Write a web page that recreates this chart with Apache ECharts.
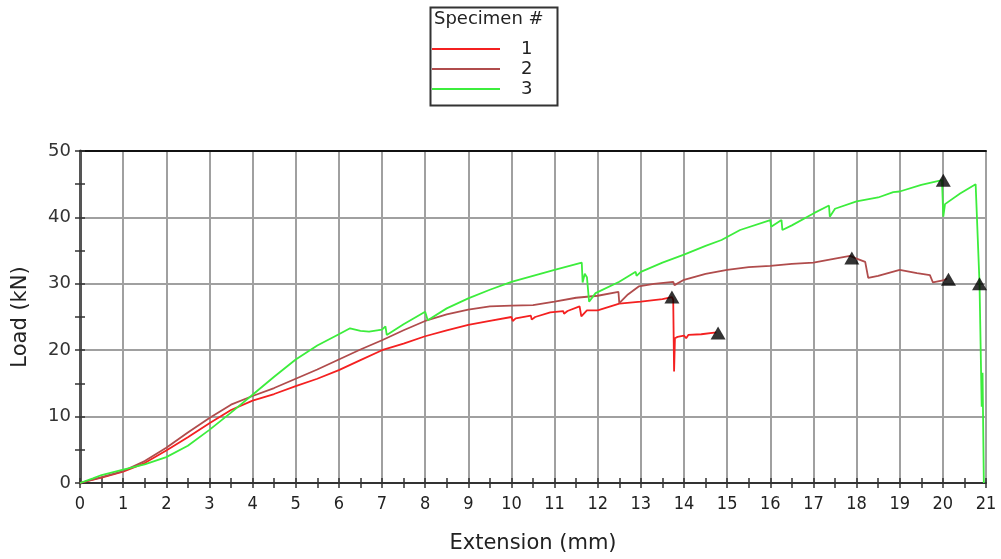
<!DOCTYPE html>
<html>
<head>
<meta charset="utf-8">
<script src="https://cdn.jsdelivr.net/npm/echarts@6/dist/echarts.min.js"></script>
<style>
html,body{margin:0;padding:0;background:#fff;}
#chart{width:1001px;height:559px;}
</style>
</head>
<body>
<div id="chart"></div>
<script>
// ---- data (Extension mm, Load kN) ----
const seriesNames = ['1', '2', '3'];
const xTicks = [0,1,2,3,4,5,6,7,8,9,10,11,12,13,14,15,16,17,18,19,20,21];
const yTicks = [0,10,20,30,40,50];

const specimen1 = [
  [0,0],[0.5,0.8],[1,1.7],[1.5,3.0],[2,4.9],[2.5,6.9],[3,9.0],[3.5,11.0],[4,12.4],
  [4.5,13.4],[5,14.6],[5.5,15.7],[6,17.0],[6.5,18.5],[7,20.0],[7.5,21.0],[8,22.1],
  [8.5,23.0],[9,23.8],[9.5,24.4],[10,25.0],[10.03,24.4],[10.1,24.8],[10.45,25.2],
  [10.47,24.6],[10.55,25.0],[10.9,25.7],[11.2,25.9],[11.22,25.5],[11.3,25.9],
  [11.58,26.6],[11.62,25.1],[11.75,26.0],[12,26.0],[12.5,27.0],[13,27.3],[13.5,27.7],
  [13.72,28.0],[13.75,27.6],[13.77,16.8],[13.79,21.8],[13.85,22.0],[14.0,22.2],
  [14.05,21.8],[14.1,22.3],[14.4,22.4],[14.75,22.7]
];
const specimen2 = [
  [0,0],[0.5,0.9],[1,1.8],[1.5,3.3],[2,5.3],[2.5,7.6],[3,9.8],[3.5,11.8],[4,13.1],
  [4.5,14.3],[5,15.7],[5.5,17.1],[6,18.6],[6.5,20.1],[7,21.5],[7.5,23.0],[8,24.4],
  [8.5,25.4],[9,26.1],[9.5,26.6],[10,26.7],[10.5,26.8],[11,27.3],[11.5,27.9],[12,28.2],
  [12.48,28.8],[12.5,27.1],[12.7,28.4],[12.95,29.6],[13.3,30.0],[13.75,30.3],[13.78,29.8],
  [14,30.6],[14.5,31.5],[15,32.1],[15.5,32.5],[16,32.7],[16.5,33.0],[17,33.2],[17.5,33.8],
  [17.85,34.2],[18.0,33.8],[18.2,33.3],[18.27,30.9],[18.5,31.2],[19.0,32.1],[19.4,31.6],
  [19.7,31.3],[19.77,30.2],[20.0,30.5],[20.1,30.8]
];
const specimen3 = [
  [0,0],[0.3,0.7],[0.5,1.2],[1,2.0],[1.5,2.8],[2,3.9],[2.5,5.6],[3,8.0],[3.5,10.6],
  [4,13.3],[4.5,16.0],[5,18.6],[5.5,20.7],[6,22.4],[6.26,23.3],[6.5,22.9],[6.7,22.8],
  [7.0,23.1],[7.08,23.6],[7.11,22.3],[7.5,23.9],[8.0,25.8],[8.06,24.5],[8.5,26.3],
  [9.0,27.8],[9.5,29.1],[10.0,30.3],[10.5,31.2],[11.0,32.1],[11.63,33.2],[11.65,30.2],
  [11.7,31.5],[11.75,31.0],[11.8,27.3],[11.95,28.6],[12.5,30.3],[12.88,31.8],[12.9,31.2],
  [13.0,31.8],[13.5,33.2],[14,34.4],[14.5,35.7],[14.87,36.6],[15.3,38.1],[16.0,39.6],
  [16.02,38.6],[16.26,39.6],[16.28,38.1],[16.5,38.8],[17.0,40.6],[17.36,41.8],[17.38,40.1],
  [17.5,41.3],[18.0,42.4],[18.5,43.0],[18.85,43.8],[19.0,43.9],[19.5,44.9],[19.98,45.6],
  [20.01,40.1],[20.05,42.0],[20.4,43.6],[20.76,45.0],[20.85,30.0],[20.9,11.5],[20.92,16.6],
  [20.95,0]
];
const failurePoints = [
  [13.72,28.0],[14.79,22.6],[17.89,33.9],[20.13,30.7],[20.01,45.6],[20.85,30.0]
];
const colors = ['#f42020', '#b04c4c', '#3ced3c'];

const FONT = '"DejaVu Sans", Verdana, sans-serif';
const FONT_C = '"DejaVu Sans Condensed", "DejaVu Sans", sans-serif';

const chart = echarts.init(document.getElementById('chart'), null, {renderer: 'canvas'});

const gridCfg = {left: 80, right: 15, top: 151, bottom: 76};

function baseX(extra) {
  return Object.assign({
    type: 'value', min: xTicks[0], max: xTicks[xTicks.length - 1], interval: 1,
    position: 'bottom'
  }, extra);
}
function baseY(extra) {
  return Object.assign({
    type: 'value', min: yTicks[0], max: yTicks[yTicks.length - 1], interval: 10,
    position: 'left'
  }, extra);
}

const option = {
  animation: false,
  backgroundColor: '#fff',
  grid: gridCfg,
  legend: {
    data: seriesNames,
    orient: 'vertical',
    left: 432, top: 39,
    padding: 0,
    itemGap: 0,
    icon: 'rect',
    itemWidth: 68, itemHeight: 2,
    textStyle: {fontFamily: FONT, fontSize: 18, color: '#222', lineHeight: 20, padding: [0,0,0,16]}
  },
  graphic: [
    {type: 'rect', left: 428, top: 5, shape: {width: 127, height: 98},
     style: {fill: 'none', stroke: '#333', lineWidth: 2}},
    {type: 'text', left: 434, top: 10,
     style: {text: 'Specimen #', font: '18px ' + FONT, fill: '#222'}}
  ],
  xAxis: [
    baseX({
      name: 'Extension (mm)', nameLocation: 'middle', nameGap: 50,
      nameTextStyle: {fontFamily: FONT, fontSize: 21, color: '#222'},
      axisLine: {show: true, lineStyle: {color: '#333', width: 2}},
      axisTick: {show: true, inside: false, length: 5, lineStyle: {color: '#333', width: 1.5}},
      minorTick: {show: true, splitNumber: 2, length: 5, lineStyle: {color: '#333', width: 1.5}},
      axisLabel: {fontFamily: FONT_C, fontSize: 18, color: '#222', margin: 12},
      splitLine: {show: true, lineStyle: {color: '#a0a0a0', width: 2}}
    }),
    baseX({
      axisLine: {show: false},
      axisTick: {show: true, inside: true, length: 5, lineStyle: {color: '#333', width: 1.5}},
      minorTick: {show: true, splitNumber: 2, length: 5, lineStyle: {color: '#333', width: 1.5}},
      axisLabel: {show: false},
      splitLine: {show: false}
    }),
    baseX({
      position: 'top',
      axisLine: {show: true, lineStyle: {color: '#111', width: 2}},
      axisTick: {show: false}, axisLabel: {show: false}, splitLine: {show: false}
    })
  ],
  yAxis: [
    baseY({
      name: 'Load (kN)', nameLocation: 'middle', nameGap: 49, nameRotate: 90,
      nameTextStyle: {fontFamily: FONT, fontSize: 21, color: '#222'},
      axisLine: {show: true, lineStyle: {color: '#555', width: 3}},
      axisTick: {show: true, inside: false, length: 5, lineStyle: {color: '#333', width: 1.5}},
      minorTick: {show: true, splitNumber: 2, length: 5, lineStyle: {color: '#333', width: 1.5}},
      axisLabel: {fontFamily: FONT, fontSize: 18, color: '#333', margin: 9},
      splitLine: {show: true, lineStyle: {color: '#a0a0a0', width: 2}}
    }),
    baseY({
      axisLine: {show: false},
      axisTick: {show: true, inside: true, length: 5, lineStyle: {color: '#333', width: 1.5}},
      minorTick: {show: true, splitNumber: 2, length: 5, lineStyle: {color: '#333', width: 1.5}},
      axisLabel: {show: false},
      splitLine: {show: false}
    })
  ],
  series: [
    {name: seriesNames[0], type: 'line', data: specimen1, symbol: 'none',
     lineStyle: {color: colors[0], width: 1.8}, itemStyle: {color: colors[0]}},
    {name: seriesNames[1], type: 'line', data: specimen2, symbol: 'none',
     lineStyle: {color: colors[1], width: 1.8}, itemStyle: {color: colors[1]}},
    {name: seriesNames[2], type: 'line', data: specimen3, symbol: 'none',
     lineStyle: {color: colors[2], width: 1.8}, itemStyle: {color: colors[2]}},
    {name: 'failure', type: 'scatter', data: failurePoints, symbol: 'triangle',
     symbolSize: [15, 13], itemStyle: {color: '#000'}, z: 5}
  ]
};
chart.setOption(option);
</script>
</body>
</html>
